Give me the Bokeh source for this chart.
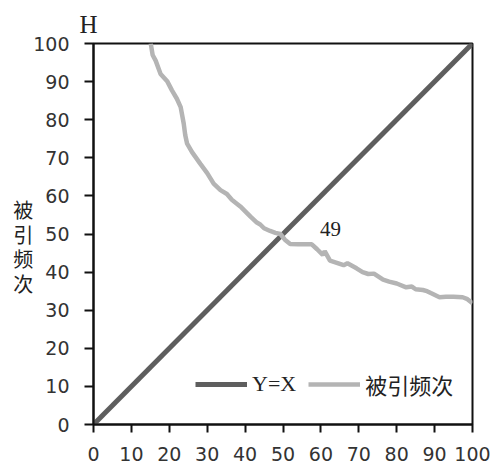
from bokeh.plotting import figure
from bokeh.models import Label, Range1d, FixedTicker, Legend, LegendItem, Title
from bokeh.embed import file_html
from bokeh.resources import INLINE

# data
diag_x = [0, 100]
diag_y = [0, 100]
cite_x = [15.1, 15.6, 16.4, 17.7, 19.5, 20.7, 22.0, 23.0, 23.8, 24.2, 24.7, 26.0, 28.2, 30.0,
          31.7, 33.5, 35.2, 36.5, 37.9, 39.0, 40.5, 41.5, 43.1, 44.0, 45.0, 46.6, 48.0, 49.3,
          50.5, 51.9, 54.0, 57.6, 59.0, 60.5, 61.0, 62.4, 64.0, 66.0, 67.0, 69.4, 71.0, 72.5,
          74.0, 76.4, 78.0, 80.0, 82.5, 84.0, 85.0, 86.9, 88.0, 89.0, 91.3, 93.0, 95.0, 97.4,
          98.5, 100.0]
cite_y = [100, 97, 95.5, 92, 90, 87.7, 85.5, 83.3, 79, 76, 73.7, 71.5, 68.4, 66,
          63.2, 61.5, 60.5, 59, 57.9, 57, 55.5, 54.5, 53, 52.5, 51.5, 50.8, 50.3, 50,
          48.5, 47.4, 47.3, 47.3, 46, 44.5, 45.5, 43, 42.5, 41.8, 42.3, 41, 40, 39.5,
          39.6, 38, 37.5, 37, 36, 36.2, 35.5, 35.3, 35, 34.5, 33.4, 33.5, 33.5, 33.4,
          33, 31.8]
ticks = [0, 10, 20, 30, 40, 50, 60, 70, 80, 90, 100]
h_index = 49
y_title = "被引频次"
top_title = "H"
series_names = ["Y=X", "被引频次"]

serif = "'Liberation Serif', 'Noto Sans CJK SC'"
cjk = "'Noto Sans CJK SC'"

p = figure(width=493, height=467, output_backend="svg", toolbar_location=None,
           x_range=Range1d(0, 100), y_range=Range1d(0, 100),
           min_border_left=93, min_border_right=21, min_border_top=43, min_border_bottom=43)
p.grid.visible = False
p.outline_line_color = "#111111"
p.outline_line_width = 2
p.outline_line_alpha = 1
p.background_fill_color = "white"
p.border_fill_color = "white"

for ax in (p.xaxis[0], p.yaxis[0]):
    ax.ticker = FixedTicker(ticks=ticks)
    ax.axis_line_color = "#111111"
    ax.axis_line_width = 2
    ax.major_tick_line_color = "#111111"
    ax.major_tick_line_width = 2
    ax.major_tick_in = 0
    ax.minor_tick_line_color = None
    ax.major_label_text_font = "DejaVu Sans"
    ax.major_label_text_font_size = "19px"
    ax.major_label_text_color = "#333333"
p.yaxis.major_tick_out = 9
p.yaxis.major_label_standoff = 15
p.xaxis.major_tick_out = 8
p.xaxis.major_label_standoff = 14

# stacked vertical y title
p.yaxis.axis_label = "\n" + "\n".join(y_title)
p.yaxis.axis_label_orientation = "horizontal"
p.yaxis.axis_label_text_font = cjk
p.yaxis.axis_label_text_font_size = "20px"
p.yaxis.axis_label_text_font_style = "normal"
p.yaxis.axis_label_text_color = "#222222"
p.yaxis.axis_label_text_line_height = 0.86
p.yaxis.axis_label_standoff = -3

p.add_layout(Title(text=top_title, align="left", offset=-14, standoff=12,
                   text_font=serif, text_font_size="25px", text_font_style="normal",
                   text_color="#222222"), "above")

r1 = p.line(diag_x, diag_y, line_color="#5e5e5e", line_width=5)
r2 = p.line(cite_x, cite_y, line_color="#b4b4b4", line_width=4.5)

legend = Legend(items=[LegendItem(label=series_names[0], renderers=[r1]),
                       LegendItem(label=series_names[1], renderers=[r2])],
                orientation="horizontal", location=(102, 24),
                border_line_color=None, background_fill_alpha=0,
                glyph_width=52, glyph_height=20, label_standoff=5, spacing=12,
                label_text_font=serif, label_text_font_size="22px",
                label_text_color="#222222", padding=4, margin=0)
p.add_layout(legend)

p.add_layout(Label(x=62.5, y=51.2, text=str(h_index), text_font=serif, text_font_size="21px",
                   text_color="#222222", text_align="center", text_baseline="middle"))

open("out.html", "w").write(file_html(p, INLINE))
